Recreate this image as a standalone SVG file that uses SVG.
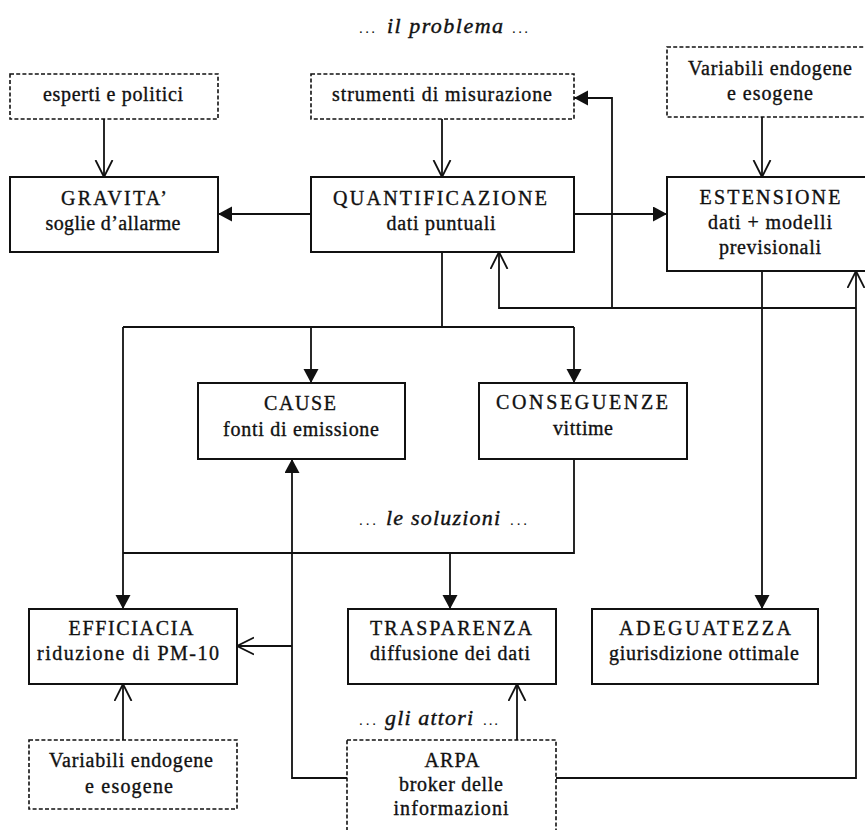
<svg xmlns="http://www.w3.org/2000/svg" width="865" height="830" viewBox="0 0 865 830">
<style>
  .box { fill: #ffffff; stroke: #111111; stroke-width: 2; }
  .dbox { fill: #ffffff; stroke: #111111; stroke-width: 1.6; stroke-dasharray: 4 2.2; }
  .t { font-family: "Liberation Serif", "Times New Roman", serif; font-size: 20px; fill: #111111; stroke: #111111; stroke-width: 0.35; text-anchor: middle; }
  .it { font-family: "Liberation Serif", "Times New Roman", serif; font-size: 22px; font-style: italic; fill: #111111; stroke: #111111; stroke-width: 0.4; }
  .dots { font-family: "Liberation Serif", "Times New Roman", serif; font-size: 15px; fill: #111111; }
  .c { fill: none; stroke: #111111; stroke-width: 1.8; }
</style>
<defs>
  <marker id="fa" markerUnits="userSpaceOnUse" markerWidth="16" markerHeight="16" refX="14" refY="7.5" orient="auto">
    <path d="M0,0 L14,7.5 L0,15 z" fill="#111111"/>
  </marker>
  <marker id="oa" markerUnits="userSpaceOnUse" markerWidth="20" markerHeight="22" refX="17" refY="9.5" orient="auto">
    <path d="M0,1 L17,9.5 L0,18" fill="none" stroke="#111111" stroke-width="1.8"/>
  </marker>
</defs>
<rect width="865" height="830" fill="#ffffff"/>

<g id="labels">
  <text class="dots" x="359" y="33" textLength="16" lengthAdjust="spacing">...</text>
  <text class="it" x="387" y="33" textLength="116" lengthAdjust="spacing">il problema</text>
  <text class="dots" x="512" y="33" textLength="16" lengthAdjust="spacing">...</text>
  <text class="dots" x="359" y="525" textLength="17" lengthAdjust="spacing">...</text>
  <text class="it" x="386" y="525" textLength="114" lengthAdjust="spacing">le soluzioni</text>
  <text class="dots" x="510" y="525" textLength="17" lengthAdjust="spacing">...</text>
  <text class="dots" x="359" y="725" textLength="17" lengthAdjust="spacing">...</text>
  <text class="it" x="385" y="725" textLength="88" lengthAdjust="spacing">gli attori</text>
  <text class="dots" x="483" y="725" textLength="15" lengthAdjust="spacing">...</text>
</g>

<g id="connectors">
  <line class="c" x1="104" y1="119" x2="104" y2="177" marker-end="url(#oa)"/>
  <line class="c" x1="442" y1="119" x2="442" y2="177" marker-end="url(#oa)"/>
  <line class="c" x1="762" y1="117" x2="762" y2="177" marker-end="url(#oa)"/>
  <line class="c" x1="311" y1="214" x2="218" y2="214" marker-end="url(#fa)"/>
  <line class="c" x1="574" y1="214" x2="667" y2="214" marker-end="url(#fa)"/>
  <polyline class="c" points="556,778 856,778 856,271" marker-end="url(#oa)"/>
  <polyline class="c" points="856,308 499,308 499,252" marker-end="url(#oa)"/>
  <polyline class="c" points="612,308 612,98 574,98" marker-end="url(#fa)"/>
  <line class="c" x1="442" y1="252" x2="442" y2="327"/>
  <line class="c" x1="123" y1="327" x2="574" y2="327"/>
  <line class="c" x1="311" y1="327" x2="311" y2="383" marker-end="url(#fa)"/>
  <line class="c" x1="574" y1="327" x2="574" y2="383" marker-end="url(#fa)"/>
  <line class="c" x1="123" y1="327" x2="123" y2="609" marker-end="url(#fa)"/>
  <polyline class="c" points="574,459 574,553 123,553"/>
  <line class="c" x1="450" y1="553" x2="450" y2="609" marker-end="url(#fa)"/>
  <line class="c" x1="762" y1="271" x2="762" y2="609" marker-end="url(#fa)"/>
  <polyline class="c" points="347,778 292,778 292,459" marker-end="url(#fa)"/>
  <line class="c" x1="292" y1="646" x2="237" y2="646" marker-end="url(#oa)"/>
  <line class="c" x1="123" y1="740" x2="123" y2="684" marker-end="url(#oa)"/>
  <line class="c" x1="517" y1="740" x2="517" y2="684" marker-end="url(#oa)"/>
</g>

<g id="esperti">
  <rect class="dbox" x="10" y="74" width="208" height="45"/>
  <text class="t" x="113" y="101" textLength="140" lengthAdjust="spacing">esperti e politici</text>
</g>
<g id="strumenti">
  <rect class="dbox" x="311" y="74" width="263" height="45"/>
  <text class="t" x="442" y="101" textLength="220" lengthAdjust="spacing">strumenti di misurazione</text>
</g>
<g id="variabili-top">
  <rect class="dbox" x="667" y="47" width="206" height="70"/>
  <text class="t" x="770" y="75" textLength="164" lengthAdjust="spacing">Variabili endogene</text>
  <text class="t" x="770" y="100" textLength="86" lengthAdjust="spacing">e esogene</text>
</g>
<g id="gravita">
  <rect class="box" x="10" y="177" width="208" height="75"/>
  <text class="t" x="114" y="205" textLength="106" lengthAdjust="spacing">GRAVITA’</text>
  <text class="t" x="113" y="230" textLength="135" lengthAdjust="spacing">soglie d’allarme</text>
</g>
<g id="quantificazione">
  <rect class="box" x="311" y="177" width="263" height="75"/>
  <text class="t" x="440" y="205" textLength="214" lengthAdjust="spacing">QUANTIFICAZIONE</text>
  <text class="t" x="441" y="230" textLength="109" lengthAdjust="spacing">dati puntuali</text>
</g>
<g id="estensione">
  <rect class="box" x="667" y="177" width="206" height="94"/>
  <text class="t" x="770" y="204" textLength="141" lengthAdjust="spacing">ESTENSIONE</text>
  <text class="t" x="770" y="229" textLength="124" lengthAdjust="spacing">dati + modelli</text>
  <text class="t" x="770" y="254" textLength="102" lengthAdjust="spacing">previsionali</text>
</g>
<g id="cause">
  <rect class="box" x="198" y="383" width="207" height="76"/>
  <text class="t" x="300" y="410" textLength="72" lengthAdjust="spacing">CAUSE</text>
  <text class="t" x="301" y="436" textLength="156" lengthAdjust="spacing">fonti di emissione</text>
</g>
<g id="conseguenze">
  <rect class="box" x="479" y="383" width="208" height="76"/>
  <text class="t" x="582" y="409" textLength="172" lengthAdjust="spacing">CONSEGUENZE</text>
  <text class="t" x="583" y="435" textLength="60" lengthAdjust="spacing">vittime</text>
</g>
<g id="efficiacia">
  <rect class="box" x="29" y="609" width="208" height="75"/>
  <text class="t" x="131" y="635" textLength="125" lengthAdjust="spacing">EFFICIACIA</text>
  <text class="t" x="128" y="660" textLength="182" lengthAdjust="spacing">riduzione di PM-10</text>
</g>
<g id="trasparenza">
  <rect class="box" x="348" y="609" width="208" height="75"/>
  <text class="t" x="451" y="635" textLength="162" lengthAdjust="spacing">TRASPARENZA</text>
  <text class="t" x="450" y="660" textLength="160" lengthAdjust="spacing">diffusione dei dati</text>
</g>
<g id="adeguatezza">
  <rect class="box" x="592" y="609" width="226" height="75"/>
  <text class="t" x="705" y="635" textLength="172" lengthAdjust="spacing">ADEGUATEZZA</text>
  <text class="t" x="704" y="660" textLength="190" lengthAdjust="spacing">giurisdizione ottimale</text>
</g>
<g id="variabili-bottom">
  <rect class="dbox" x="29" y="740" width="208" height="69"/>
  <text class="t" x="131" y="767" textLength="164" lengthAdjust="spacing">Variabili endogene</text>
  <text class="t" x="129" y="793" textLength="88" lengthAdjust="spacing">e esogene</text>
</g>
<g id="arpa">
  <rect class="dbox" x="347" y="740" width="209" height="100"/>
  <text class="t" x="452" y="767" textLength="55" lengthAdjust="spacing">ARPA</text>
  <text class="t" x="451" y="791" textLength="104" lengthAdjust="spacing">broker delle</text>
  <text class="t" x="451" y="815" textLength="115" lengthAdjust="spacing">informazioni</text>
</g>
</svg>
